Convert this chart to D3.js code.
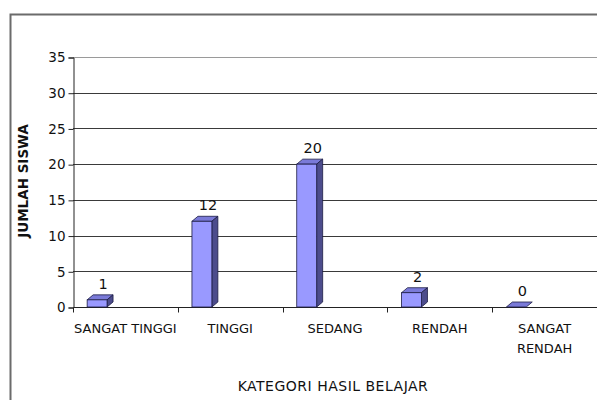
<!DOCTYPE html>
<html>
<head>
<meta charset="utf-8">
<script src="https://cdn.jsdelivr.net/npm/d3@7"></script>
<style>
  body { margin: 0; background: #fff; }
  svg { display: block; font-family: "DejaVu Sans", sans-serif; }
</style>
</head>
<body>
<div id="chart"></div>
<script>
const categories = ["SANGAT TINGGI", "TINGGI", "SEDANG", "RENDAH", "SANGAT RENDAH"];
const values = [1, 12, 20, 2, 0];
const yTicks = [0, 5, 10, 15, 20, 25, 30, 35];

const width = 597, height = 400;
const plotLeft = 73, plotRight = 597, plotTop = 57, plotBottom = 307;
const depthX = 6, depthY = 5;

const svg = d3.select("#chart").append("svg")
    .attr("width", width)
    .attr("height", height);

// outer frame
svg.append("path")
    .attr("d", `M10.5,${height + 5}V14.5H${width + 5}`)
    .attr("fill", "none")
    .attr("stroke", "#6b6b6b")
    .attr("stroke-width", 2);

const x = d3.scaleBand().domain(categories).range([plotLeft, plotRight]);
const y = d3.scaleLinear().domain([0, 35]).range([plotBottom, plotTop]);

// gridlines
svg.append("g")
    .selectAll("line")
    .data(yTicks.filter(d => d > 0))
    .join("line")
    .attr("x1", plotLeft).attr("x2", plotRight)
    .attr("y1", d => Math.round(y(d)) + 0.5)
    .attr("y2", d => Math.round(y(d)) + 0.5)
    .attr("stroke", d => d === 35 ? "#9a9a9a" : "#3a3a3a")
    .attr("stroke-width", 1);

// y axis
const yAxis = svg.append("g")
    .attr("transform", `translate(${plotLeft + 0.5},0.5)`)
    .call(d3.axisLeft(y).tickValues(yTicks).tickSize(5).tickPadding(3));
yAxis.select(".domain").attr("stroke", "#222");
yAxis.selectAll(".tick line").attr("stroke", "#222");
yAxis.selectAll("text").attr("font-size", 13.5).attr("fill", "#111")
    .attr("font-family", "DejaVu Sans");

// x axis
const xAxis = svg.append("g")
    .attr("transform", `translate(0.5,${plotBottom + 0.5})`);
xAxis.append("line").attr("x1", plotLeft).attr("x2", plotRight).attr("stroke", "#222");
xAxis.selectAll(".tk")
    .data(categories)
    .join("line")
    .attr("x1", d => Math.round(x(d))).attr("x2", d => Math.round(x(d)))
    .attr("y1", 0).attr("y2", 5)
    .attr("stroke", "#222");

const xl = svg.append("g")
    .selectAll("text")
    .data(categories)
    .join("text")
    .attr("text-anchor", "middle")
    .attr("font-size", 13)
    .attr("fill", "#111")
    .attr("x", d => x(d) + x.bandwidth() / 2)
    .attr("y", 333);
xl.each(function(d) {
    const words = d === "SANGAT RENDAH" ? d.split(" ") : [d];
    d3.select(this).selectAll("tspan")
        .data(words)
        .join("tspan")
        .attr("x", x(d) + x.bandwidth() / 2)
        .attr("dy", (w, i) => i === 0 ? 0 : 20)
        .text(w => w);
});

// bars (3D look)
const bw = x.bandwidth() * 0.19;
const bx = d => x(d) + x.bandwidth() * 0.135;
const bars = svg.append("g")
    .selectAll("g")
    .data(categories.map((c, i) => ({ c, v: values[i] })))
    .join("g");

bars.each(function(d) {
    const g = d3.select(this);
    const x0 = bx(d.c), x1 = x0 + bw, yt = y(d.v), yb = y(0);
    // top
    g.append("path")
        .attr("d", `M${x0},${yt}L${x0 + depthX},${yt - depthY}L${x1 + depthX},${yt - depthY}L${x1},${yt}Z`)
        .attr("fill", "#7a7ad8").attr("stroke", "#1c1c44").attr("stroke-width", 0.8);
    if (d.v > 0) {
        // side
        g.append("path")
            .attr("d", `M${x1},${yt}L${x1 + depthX},${yt - depthY}L${x1 + depthX},${yb - depthY}L${x1},${yb}Z`)
            .attr("fill", "#4c4c8c").attr("stroke", "#1c1c44").attr("stroke-width", 0.8);
        // front
        g.append("rect")
            .attr("x", x0).attr("y", yt).attr("width", bw).attr("height", yb - yt)
            .attr("fill", "#9999ff").attr("stroke", "#1c1c44").attr("stroke-width", 0.8);
    }
    g.append("text")
        .attr("text-anchor", "middle")
        .attr("font-size", 14.5)
        .attr("fill", "#111")
        .attr("x", x0 + 16)
        .attr("y", yt - depthY - 6)
        .text(d.v);
});

// axis titles
svg.append("text")
    .attr("transform", `translate(28,181) rotate(-90)`)
    .attr("text-anchor", "middle")
    .attr("font-size", 13.5)
    .attr("font-weight", "bold")
    .attr("fill", "#111")
    .text("JUMLAH SISWA");

svg.append("text")
    .attr("x", (plotLeft + plotRight) / 2 - 2)
    .attr("y", 391)
    .attr("text-anchor", "middle")
    .attr("font-size", 14)
    .attr("letter-spacing", 0.5)
    .attr("fill", "#111")
    .text("KATEGORI HASIL BELAJAR");
</script>
</body>
</html>
